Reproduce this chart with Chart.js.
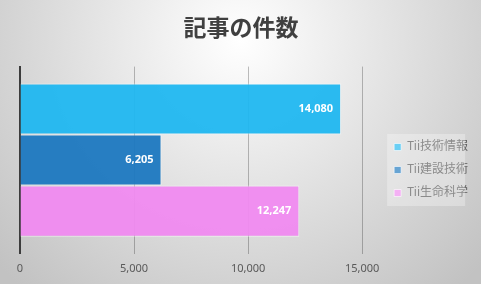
<!DOCTYPE html>
<html>
<head>
<meta charset="utf-8">
<script src="https://cdn.jsdelivr.net/npm/chart.js@4"></script>
<style>
  html, body { margin: 0; padding: 0; background: #fff; }
  #wrap { width: 481px; height: 284px; }
</style>
</head>
<body>
<div id="wrap"><canvas id="chart" width="481" height="284"></canvas></div>
<script>
const TITLE = "記事の件数";
const CATEGORIES = [""];
const SERIES_NAMES = ["Tii技術情報", "Tii建設技術", "Tii生命科学"];
const SERIES_VALUES = [14080, 6205, 12247];
const SERIES_COLORS = ["rgba(32,183,240,0.95)", "rgba(28,120,192,0.95)", "rgba(240,138,240,0.95)"];
const TICK_VALUES = [0, 5000, 10000, 15000];

const FONT = '"Noto Sans", "Noto Sans CJK JP", sans-serif';

// soft grey radial background like the office chart style
const backgroundPlugin = {
  id: "bg",
  beforeDraw(chart) {
    const { ctx, width, height } = chart;
    const g = ctx.createRadialGradient(240, 40, 0, 240, 40, 330);
    g.addColorStop(0, "#ffffff");
    g.addColorStop(1, "#c2c2c2");
    ctx.save();
    ctx.fillStyle = g;
    ctx.fillRect(0, 0, width, height);
    ctx.restore();
  },
  beforeDatasetsDraw(chart) {
    // faint panel behind the legend
    const boxes = chart.legend && chart.legend.legendHitBoxes;
    if (!boxes || !boxes.length) return;
    const ctx = chart.ctx;
    const first = boxes[0];
    const last = boxes[boxes.length - 1];
    ctx.save();
    ctx.fillStyle = "rgba(255,255,255,0.3)";
    ctx.fillRect(first.left - 7, first.top - 7, 78, last.top + last.height - first.top + 14);
    ctx.restore();
  },
};

// value labels inside the end of each bar
const valueLabelPlugin = {
  id: "valueLabels",
  afterDatasetsDraw(chart) {
    const ctx = chart.ctx;
    ctx.save();
    ctx.font = "bold 11px " + FONT;
    ctx.fillStyle = "#ffffff";
    ctx.textAlign = "right";
    ctx.textBaseline = "middle";
    chart.data.datasets.forEach((ds, i) => {
      const meta = chart.getDatasetMeta(i);
      meta.data.forEach((bar, j) => {
        ctx.fillText(ds.data[j].toLocaleString("en-US"), bar.x - 8, bar.y);
      });
    });
    ctx.restore();
  },
};

const datasets = SERIES_NAMES.map((name, i) => ({
  label: name,
  data: [SERIES_VALUES[i]],
  backgroundColor: SERIES_COLORS[i],
  borderColor: "rgba(255,255,255,0.6)",
  borderWidth: 1,
  categoryPercentage: 0.82,
  barPercentage: 1.0,
}));

new Chart(document.getElementById("chart"), {
  type: "bar",
  data: { labels: CATEGORIES, datasets: datasets },
  options: {
    indexAxis: "y",
    responsive: false,
    animation: false,
    layout: { padding: { left: 4, right: 3, top: 0, bottom: 0 } },
    plugins: {
      title: {
        display: true,
        text: TITLE,
        color: "#404040",
        font: { family: '"Noto Sans CJK JP", sans-serif', size: 23, weight: "bold" },
        padding: { top: 13, bottom: 26 },
      },
      legend: {
        position: "right",
        // empty legend title only pushes the items down a bit
        title: { display: true, text: " ", font: { size: 12, lineHeight: 1 }, padding: 22 },
        labels: {
          boxWidth: 7,
          boxHeight: 7,
          padding: 11,
          color: "#595959",
          font: { family: FONT, size: 12 },
        },
      },
      tooltip: { enabled: false },
    },
    scales: {
      x: {
        min: 0,
        max: 15920,
        afterBuildTicks(scale) {
          scale.ticks = TICK_VALUES.map((v) => ({ value: v }));
        },
        ticks: {
          color: "#595959",
          font: { family: FONT, size: 11, lineHeight: 0.95 },
          padding: 10,
          callback: (v) => v.toLocaleString("en-US"),
        },
        grid: { color: "rgba(0,0,0,0.25)", drawTicks: false },
        border: { display: false },
      },
      y: {
        ticks: { display: false },
        grid: { display: false, drawTicks: false },
        border: { display: true, color: "#3c3c3c", width: 2 },
        afterFit(scale) {
          scale.width = 16;
        },
      },
    },
  },
  plugins: [backgroundPlugin, valueLabelPlugin],
});
</script>
</body>
</html>
